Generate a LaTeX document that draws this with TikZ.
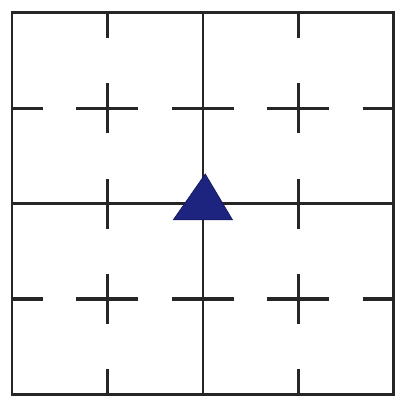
\documentclass[tikz,border=0pt]{standalone}
\usepackage{tikz}

\definecolor{marker}{RGB}{28,36,128}

\begin{document}
\begin{tikzpicture}[
  frame/.style={draw=black!85,line width=1.6pt},
  midline/.style={draw=black!85,line width=1.4pt},
  hdash/.style={draw=black!85,line width=1.9pt,
    dash pattern=on 1.3cm off 0.7cm,dash phase=0.65cm},
  vdash/.style={draw=black!85,line width=1.9pt,
    dash pattern=on 1.05cm off 0.95cm,dash phase=0.525cm}
]
\useasboundingbox (-0.25,-0.24) rectangle (8.15,8.265);

% corners of the square
\coordinate (sw) at (0,0);
\coordinate (ne) at (8,8);

% dashed quarter lines
\coordinate (l1) at (0,2); \coordinate (r1) at (8,2);
\coordinate (l3) at (0,6); \coordinate (r3) at (8,6);
\coordinate (b1) at (2,0); \coordinate (t1) at (2,8);
\coordinate (b3) at (6,0); \coordinate (t3) at (6,8);
\path[hdash] (l1) -- (r1);
\path[hdash] (l3) -- (r3);
\path[vdash] (b1) -- (t1);
\path[vdash] (b3) -- (t3);

% solid middle lines
\coordinate (l2) at (0,4); \coordinate (r2) at (8,4);
\coordinate (b2) at (4,0); \coordinate (t2) at (4,8);
\path[midline] (l2) -- (r2);
\path[midline] (b2) -- (t2);

\path[frame] (sw) rectangle (ne);

% marker at the centre
\filldraw[fill=marker,draw=marker!70!black,line width=0.4pt]
  (3.38,3.66) -- (4.62,3.66) -- (4.05,4.62) -- cycle;
\end{tikzpicture}
\end{document}
